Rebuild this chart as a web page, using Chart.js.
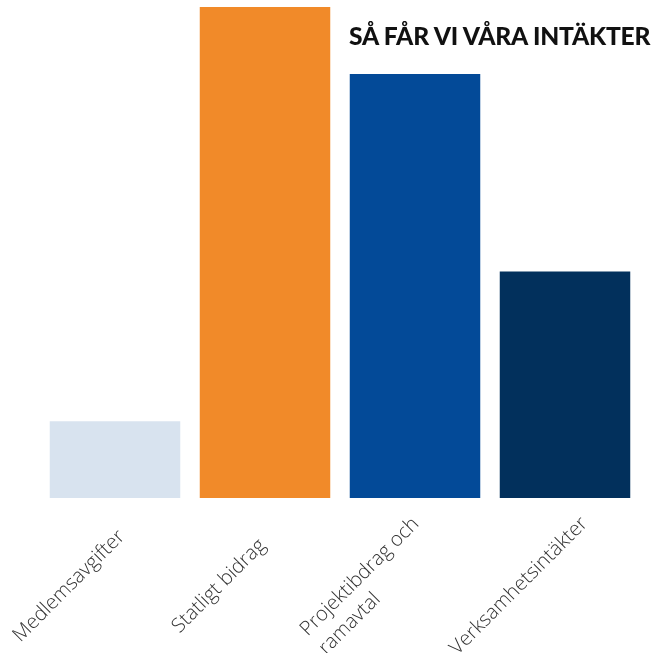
<!DOCTYPE html>
<html>
<head>
<meta charset="utf-8">
<script src="https://cdn.jsdelivr.net/npm/chart.js@4"></script>
<style>
  html,body{margin:0;padding:0;background:#fff;}
  #wrap{position:relative;width:652px;height:653px;}
  #title{position:absolute;left:349px;top:21px;font-family:Lato,sans-serif;font-weight:900;font-size:24.6px;color:#111;white-space:nowrap;letter-spacing:-0.2px;}
</style>
</head>
<body>
<div id="wrap">
  <canvas id="c" width="652" height="653"></canvas>
  <div id="title">SÅ FÅR VI VÅRA INTÄKTER</div>
</div>
<script>
// inkomstkällor, andel i procent (avläst)
const categories = ['Medlemsavgifter', 'Statligt bidrag', ['Projektibdrag och', 'ramavtal'], 'Verksamhetsintäkter'];
const values = [6.3, 40.3, 34.8, 18.6];
const barColors = ['#d8e3ef', '#f18a29', '#034a98', '#02305c'];

// snedställda etiketter, centrerade under staplarna (som i originalet)
const slantLabels = {
  id: 'slantLabels',
  afterDraw(chart) {
    const ctx = chart.ctx, xs = chart.scales.x;
    ctx.save();
    ctx.font = '300 20px "Open Sans"';
    ctx.fillStyle = '#333';
    ctx.textAlign = 'left';
    ctx.textBaseline = 'middle';
    categories.forEach(function(lab, i) {
      const lines = Array.isArray(lab) ? lab : [lab];
      const w = Math.max.apply(null, lines.map(function(l){ return ctx.measureText(l).width; }));
      const lh = 26;
      ctx.save();
      ctx.translate(xs.getPixelForTick(i) - 46, xs.top + 88);
      ctx.rotate(-Math.PI / 4);
      lines.forEach(function(l, j){ ctx.fillText(l, -w / 2, (j - (lines.length - 1) / 2) * lh); });
      ctx.restore();
    });
    ctx.restore();
  }
};

new Chart(document.getElementById('c'), {
  type: 'bar',
  data: {
    labels: categories,
    datasets: [{data: values, backgroundColor: barColors, borderWidth: 0,
      barPercentage: 0.87, categoryPercentage: 1}]
  },
  options: {
    responsive: false, animation: false,
    layout: {padding: {left: 40, right: 12, top: 7, bottom: 0}},
    plugins: {legend: {display: false}, tooltip: {enabled: false}},
    scales: {
      y: {display: false, min: 0, max: 40.3},
      x: {
        grid: {display: false}, border: {display: false},
        ticks: {display: false},
        afterFit: function(s){ s.height = 155; s.paddingLeft = 0; s.paddingRight = 0; }
      }
    }
  },
  plugins: [slantLabels]
});
</script>
</body>
</html>
